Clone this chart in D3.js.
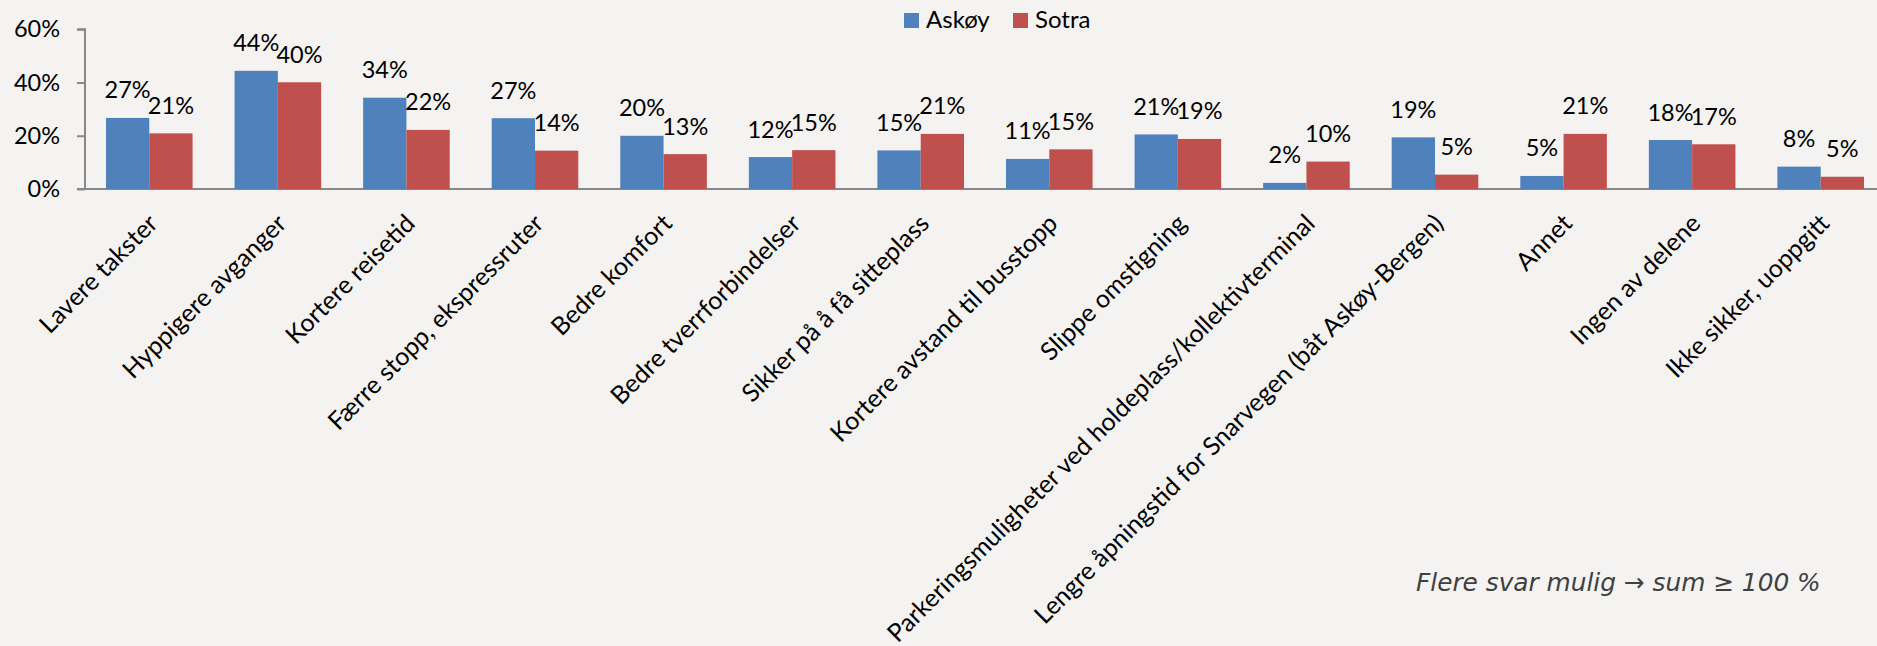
<!DOCTYPE html>
<html>
<head>
<meta charset="utf-8">
<script src="https://cdn.jsdelivr.net/npm/d3@7"></script>
<style>
  html, body { margin: 0; padding: 0; background: #f4f3f1; }
  svg { display: block; }
</style>
</head>
<body>
<svg id="chart" width="1877" height="646"></svg>
<script>
const categories = [
  "Lavere takster",
  "Hyppigere avganger",
  "Kortere reisetid",
  "Færre stopp, ekspressruter",
  "Bedre komfort",
  "Bedre tverrforbindelser",
  "Sikker på å få sitteplass",
  "Kortere avstand til busstopp",
  "Slippe omstigning",
  "Parkeringsmuligheter ved holdeplass/kollektivterminal",
  "Lengre åpningstid for Snarvegen (båt Askøy-Bergen)",
  "Annet",
  "Ingen av delene",
  "Ikke sikker, uoppgitt"
];
const seriesNames = ["Askøy", "Sotra"];
const askoy = [26.7, 44.4, 34.3, 26.6, 20.0, 12.0, 14.5, 11.3, 20.5, 2.3, 19.4, 4.9, 18.4, 8.4];
const sotra = [20.9, 40.1, 22.2, 14.4, 13.1, 14.6, 20.7, 14.9, 18.8, 10.3, 5.4, 20.7, 16.8, 4.6];
const yTicks = [0, 20, 40, 60];
const footnote = "Flere svar mulig \u2192 sum \u2265 100 %";

const colors = ["#4f81bd", "#c0504d"];
const svg = d3.select("#chart");

const x0 = 85, x1 = 1885, yTop = 29.3, yBot = 189;
const x = d3.scaleBand().domain(categories).range([x0, x1]).paddingInner(0.3266).paddingOuter(0.1633);
const xi = d3.scaleBand().domain(seriesNames).range([0, x.bandwidth()]).padding(0);
const y = d3.scaleLinear().domain([0, 60]).range([yBot, yTop]);

const rows = categories.map((c, i) => ({ cat: c, vals: [askoy[i], sotra[i]] }));

// Y axis
const yAxis = d3.axisLeft(y).tickValues(yTicks).tickFormat(d => d + "%").tickSize(8).tickPadding(17);
const gy = svg.append("g").attr("transform", `translate(${x0},0)`).call(yAxis);
gy.select(".domain").attr("stroke", "#888").attr("stroke-width", 2).attr("d", `M-8,${yTop}H0V${yBot}`);
gy.selectAll(".tick line").attr("stroke", "#888").attr("stroke-width", 2);
gy.selectAll(".tick text").attr("font-family", "Lato").attr("font-size", 23.5).attr("fill", "#000");

// X axis
const xAxis = d3.axisBottom(x).tickSize(0).tickPadding(0);
const gx = svg.append("g").attr("transform", `translate(0,${yBot})`).call(xAxis);
gx.select(".domain").attr("stroke", "#888").attr("stroke-width", 2).attr("d", `M${x0 - 8},0H${x1}`);
gx.selectAll(".tick text")
  .attr("font-family", "Lato").attr("font-size", 25).attr("fill", "#000")
  .attr("text-anchor", "end")
  .attr("dy", null)
  .attr("transform", "translate(10,36) rotate(-45)");

// Bars
const groups = svg.append("g").selectAll("g").data(rows).join("g")
  .attr("transform", d => `translate(${x(d.cat)},0)`);
groups.selectAll("rect").data(d => d.vals.map((v, k) => ({ k, v }))).join("rect")
  .attr("x", d => xi(seriesNames[d.k]))
  .attr("y", d => y(d.v))
  .attr("width", xi.bandwidth())
  .attr("height", d => yBot - y(d.v))
  .attr("fill", d => colors[d.k]);
groups.selectAll("text.lbl").data(d => d.vals.map((v, k) => ({ k, v }))).join("text")
  .attr("class", "lbl")
  .attr("x", d => xi(seriesNames[d.k]) + xi.bandwidth() / 2)
  .attr("y", d => y(d.v) - 19.5)
  .attr("text-anchor", "middle")
  .attr("font-family", "Lato").attr("font-size", 23.5).attr("fill", "#000")
  .text(d => Math.round(d.v) + "%");

// Legend
const legendX = [904, 1013];
const lg = svg.append("g").selectAll("g").data(seriesNames).join("g")
  .attr("transform", (d, i) => `translate(${legendX[i]},0)`);
lg.append("rect").attr("x", 0).attr("y", 13).attr("width", 15).attr("height", 15).attr("fill", (d, i) => colors[i]);
lg.append("text").attr("x", 22).attr("y", 28.3)
  .attr("font-family", "Lato").attr("font-size", 24).attr("fill", "#000").text(d => d);

// Footnote
svg.append("text").attr("x", 1416).attr("y", 591)
  .attr("font-family", "DejaVu Sans").attr("font-style", "italic").attr("font-size", 24.8)
  .attr("fill", "#404040").text(footnote);
</script>
</body>
</html>
